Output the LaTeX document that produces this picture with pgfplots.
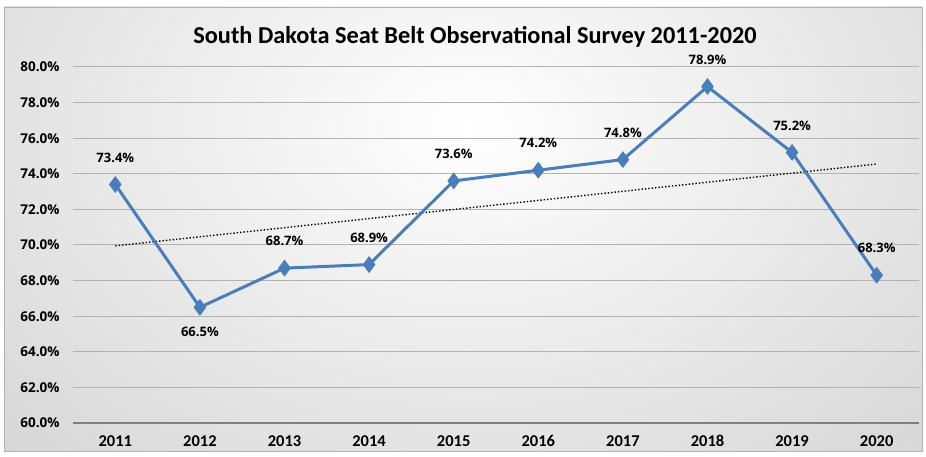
\documentclass[border=0pt]{standalone}
\usepackage{pgfplots}
\pgfplotsset{compat=1.18}
\usepackage{pgfplotstable}
\usepackage{fontspec}
\setmainfont{Carlito}
\newfontfamily\labelfont{Open Sans}
\definecolor{lineblue}{HTML}{4A7EBB}

\pgfplotstableread{
i year rate shift
0 2011 73.4 27
1 2012 66.5 -25
2 2013 68.7 27
3 2014 68.9 27
4 2015 73.6 27
5 2016 74.2 27
6 2017 74.8 27
7 2018 78.9 27
8 2019 75.2 27
9 2020 68.3 27
}\data

\begin{document}
\begin{tikzpicture}
\useasboundingbox (0,0) rectangle (926bp,457bp);
\fill[white] (0,0) rectangle (926bp,457bp);
\begin{scope}
\clip (4bp,6bp) rectangle (922bp,450bp);
\shade[inner color=white, outer color=black!24] (470bp,330bp) ellipse (1000bp and 700bp);
\end{scope}
\draw[black!30, line width=0.8bp] (4bp,6bp) rectangle (922bp,450bp);
\node[font=\bfseries\fontsize{24.3bp}{28bp}\selectfont] at (475bp,420bp) {South Dakota Seat Belt Observational Survey 2011-2020};
\begin{axis}[
  at={(73bp,34bp)}, anchor=south west, scale only axis,
  width=846bp, height=356bp,
  xmin=-0.5, xmax=9.5, ymin=60, ymax=80,
  axis line style={draw=none},
  xtick={0,...,9},
  xticklabels={2011,2012,2013,2014,2015,2016,2017,2018,2019,2020},
  ytick={60,62,64,66,68,70,72,74,76,78,80},
  major tick length=0pt,
  ymajorgrids, grid style={draw=black!30, line width=1bp},
  /pgf/number format/assume math mode=true,
  yticklabel={\pgfmathprintnumber[fixed,fixed zerofill,precision=1]{\tick}\%},
  xticklabel style={font=\bfseries\fontsize{16.5bp}{19bp}\selectfont, yshift=-9bp},
  yticklabel style={font=\labelfont\bfseries\fontsize{13.5bp}{16bp}\selectfont, xshift=-10bp},
  clip=false,
]
\draw[black!50, line width=2.5bp] (axis cs:-0.5,60) -- (axis cs:9.5,60);
\addplot[black, dotted, line width=1.4bp] table[x=i, y={create col/linear regression={y=rate}}] {\data};
\addplot[lineblue, line width=3bp, mark=diamond*, mark size=6bp, mark options={fill=lineblue, solid},
  point meta=explicit,
  visualization depends on={\thisrow{shift} \as \myshift},
  nodes near coords={\labelfont\bfseries\fontsize{13bp}{15bp}\selectfont\pgfmathprintnumber[fixed,fixed zerofill,precision=1]{\pgfplotspointmeta}\%},
  every node near coord/.append style={anchor=center, yshift=\myshift, text=black},
] table[x=i, y=rate, meta=rate] {\data};
\end{axis}
\end{tikzpicture}
\end{document}
